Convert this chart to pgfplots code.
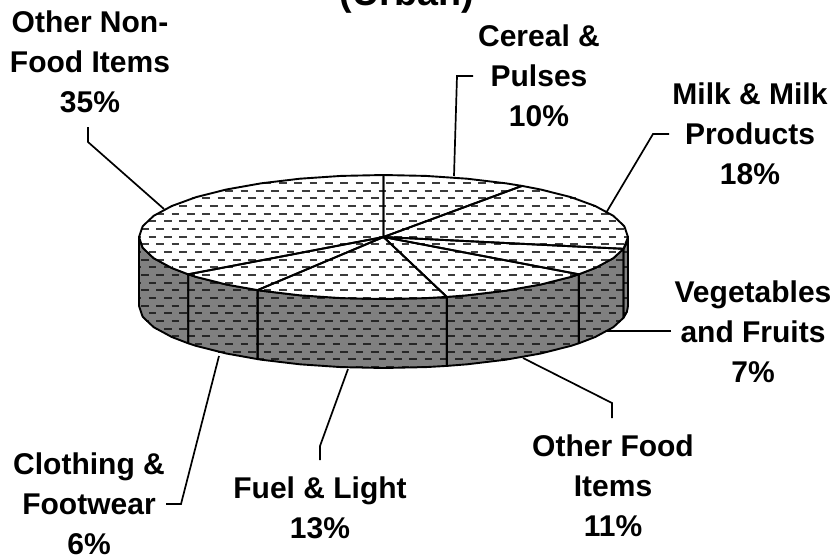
\documentclass[border=0pt]{standalone}
\usepackage{fontspec}
\setmainfont{Liberation Sans}
\usepackage{pgfplots}
\pgfplotsset{compat=1.18}
\definecolor{sidegray}{HTML}{808080}
\definecolor{dashtop}{HTML}{3c3c3c}
\definecolor{dashside}{HTML}{262626}
% one row of the dashed texture: y, left x, right x, dash grid start, colour
\newcommand\dashrow[5]{%
  \pgfmathsetmacro\ph{mod(#2-#4,15.33)}%
  \edef\temp{\noexpand\addplot[#5,line width=1.9pt,dash pattern=on 7.7pt off 7.63pt,dash phase=\ph pt] coordinates {(#2,#1)(#3,#1)};}\temp}
\tikzset{
  wedge/.style={draw=black,line width=1.9pt,line join=round,fill=none},
  leader/.style={draw=black,line width=1.7pt,line join=miter},
  lab/.style={align=center,anchor=base,inner sep=0pt,font=\fontsize{30}{40}\selectfont\bfseries}
}
\begin{document}
\begin{tikzpicture}[x=1pt,y=1pt]
\path[clip,use as bounding box] (0,0) rectangle (837,558);
\begin{axis}[at={(0,0)},anchor=south west,width=837pt,height=558pt,scale only axis,hide axis,
  xmin=0,xmax=837,ymin=0,ymax=558,y dir=reverse,clip=false]
% side body
\addplot[fill=sidegray,draw=none] coordinates {(628,237)(628,306)(626.9,311.9)(623.5,317.8)(613.3,327.2)(595.2,337)(578.8,343.3)(570.8,345.9)(540.7,353.5)(505.8,359.7)(467.1,364.3)(446.8,365.9)(425.9,367.1)(383.5,368)(341.1,367.1)(299.9,364.3)(261.2,359.7)(257.6,359.1)(226.3,353.5)(196.2,345.9)(188.2,343.3)(171.8,337)(153.7,327.2)(142.7,316.8)(139,306)(139,237)} -- cycle;
\dashrow{244.3}{139.8}{627.2}{3.03}{dashside}
\dashrow{252.0}{139.8}{627.2}{10.7}{dashside}
\dashrow{259.7}{139.8}{627.2}{3.03}{dashside}
\dashrow{267.3}{139.8}{627.2}{10.7}{dashside}
\dashrow{275.0}{139.8}{627.2}{3.03}{dashside}
\dashrow{282.7}{139.8}{627.2}{10.7}{dashside}
\dashrow{290.3}{139.8}{627.2}{3.03}{dashside}
\dashrow{298.0}{139.8}{627.2}{10.7}{dashside}
\dashrow{305.7}{139.8}{627.2}{3.03}{dashside}
\dashrow{313.3}{140.7}{626.3}{10.7}{dashside}
\dashrow{321.0}{146.3}{620.7}{3.03}{dashside}
\dashrow{328.7}{155.9}{611.1}{10.7}{dashside}
\dashrow{336.3}{170.2}{596.8}{3.03}{dashside}
\dashrow{344.0}{190.3}{576.7}{10.7}{dashside}
\dashrow{351.7}{218.3}{548.7}{3.03}{dashside}
\dashrow{359.3}{258.5}{508.5}{10.7}{dashside}
\dashrow{367.0}{339.5}{427.5}{3.03}{dashside}
% side outlines
\addplot[wedge] coordinates {(628,237)(626.9,242.9)(623.5,248.8)(623.5,317.8)(626.9,311.9)(628,306)} -- cycle;
\addplot[wedge] coordinates {(623.5,248.8)(613.3,258.2)(595.2,268)(578.8,274.3)(578.8,343.3)(595.2,337)(613.3,327.2)(623.5,317.8)} -- cycle;
\addplot[wedge] coordinates {(578.8,274.3)(570.8,276.9)(540.7,284.5)(505.8,290.7)(467.1,295.3)(446.8,296.9)(446.8,365.9)(467.1,364.3)(505.8,359.7)(540.7,353.5)(570.8,345.9)(578.8,343.3)} -- cycle;
\addplot[wedge] coordinates {(446.8,296.9)(425.9,298.1)(383.5,299)(341.1,298.1)(299.9,295.3)(261.2,290.7)(257.6,290.1)(257.6,359.1)(261.2,359.7)(299.9,364.3)(341.1,367.1)(383.5,368)(425.9,367.1)(446.8,365.9)} -- cycle;
\addplot[wedge] coordinates {(257.6,290.1)(226.3,284.5)(196.2,276.9)(188.2,274.3)(188.2,343.3)(196.2,345.9)(226.3,353.5)(257.6,359.1)} -- cycle;
\addplot[wedge] coordinates {(188.2,274.3)(171.8,268)(153.7,258.2)(142.7,247.8)(139,237)(139,306)(142.7,316.8)(153.7,327.2)(171.8,337)(188.2,343.3)} -- cycle;
% top face
\addplot[fill=white,draw=none] coordinates {(383.5,175)(425.9,175.9)(467.1,178.7)(505.8,183.3)(522,185.9)(540.7,189.5)(570.8,197.1)(595.2,206)(613.3,215.8)(624.3,226.2)(628,237)(623.5,248.8)(613.3,258.2)(595.2,268)(578.8,274.3)(570.8,276.9)(540.7,284.5)(505.8,290.7)(467.1,295.3)(446.8,296.9)(425.9,298.1)(383.5,299)(341.1,298.1)(299.9,295.3)(261.2,290.7)(257.6,290.1)(226.3,284.5)(196.2,276.9)(188.2,274.3)(171.8,268)(153.7,258.2)(142.7,247.8)(139,237)(142.7,226.2)(153.7,215.8)(171.8,206)(196.2,197.1)(226.3,189.5)(261.2,183.3)(299.9,178.7)(341.1,175.9)} -- cycle;
\dashrow{183.0}{261.5}{505.5}{3.03}{dashtop}
\dashrow{190.7}{219.5}{547.5}{10.7}{dashtop}
\dashrow{198.3}{191.5}{575.5}{3.03}{dashtop}
\dashrow{206.0}{171.5}{595.5}{10.7}{dashtop}
\dashrow{213.7}{156.5}{610.5}{3.03}{dashtop}
\dashrow{221.3}{146.5}{620.5}{10.7}{dashtop}
\dashrow{229.0}{140.9}{626.1}{3.03}{dashtop}
\dashrow{236.7}{139.5}{627.5}{10.7}{dashtop}
\dashrow{244.3}{140.9}{626.1}{3.03}{dashtop}
\dashrow{252.0}{146.5}{620.5}{10.7}{dashtop}
\dashrow{259.7}{156.5}{610.5}{3.03}{dashtop}
\dashrow{267.3}{171.5}{595.5}{10.7}{dashtop}
\dashrow{275.0}{191.5}{575.5}{3.03}{dashtop}
\dashrow{282.7}{219.5}{547.5}{10.7}{dashtop}
\dashrow{290.3}{261.5}{505.5}{3.03}{dashtop}
\dashrow{298.0}{343.5}{423.5}{10.7}{dashtop}
% top: Cereal & Pulses 10
\addplot[wedge] coordinates {(383.5,237)(383.5,175)(425.9,175.9)(467.1,178.7)(505.8,183.3)(522,185.9)} -- cycle;
% Milk 18
\addplot[wedge] coordinates {(383.5,237)(522,185.9)(540.7,189.5)(570.8,197.1)(595.2,206)(613.3,215.8)(624.3,226.2)(628,237)(623.5,248.8)} -- cycle;
% Vegetables 7
\addplot[wedge] coordinates {(383.5,237)(623.5,248.8)(613.3,258.2)(595.2,268)(578.8,274.3)} -- cycle;
% Other Food 11
\addplot[wedge] coordinates {(383.5,237)(578.8,274.3)(570.8,276.9)(540.7,284.5)(505.8,290.7)(467.1,295.3)(446.8,296.9)} -- cycle;
% Fuel 13
\addplot[wedge] coordinates {(383.5,237)(446.8,296.9)(425.9,298.1)(383.5,299)(341.1,298.1)(299.9,295.3)(261.2,290.7)(257.6,290.1)} -- cycle;
% Clothing 6
\addplot[wedge] coordinates {(383.5,237)(257.6,290.1)(226.3,284.5)(196.2,276.9)(188.2,274.3)} -- cycle;
% Other non-food 35
\addplot[wedge] coordinates {(383.5,237)(188.2,274.3)(171.8,268)(153.7,258.2)(142.7,247.8)(139,237)(142.7,226.2)(153.7,215.8)(171.8,206)(196.2,197.1)(226.3,189.5)(261.2,183.3)(299.9,178.7)(341.1,175.9)(383.5,175)} -- cycle;
% leaders
\addplot[leader] coordinates {(88,127)(88,142)(164,209)};
\addplot[leader] coordinates {(473,76)(457,76)(454,176)};
\addplot[leader] coordinates {(669,134)(653,134)(606,213)};
\addplot[leader] coordinates {(671,331)(607,331)};
\addplot[leader] coordinates {(612,418)(612,403)(523,358)};
\addplot[leader] coordinates {(320,460)(320,446)(348,369)};
\addplot[leader] coordinates {(166,504)(181,504)(219,356)};
% labels
\node[lab,font=\fontsize{37.7}{40}\selectfont\bfseries] at (axis cs:407,5) {(Urban)};
\node[lab] at (axis cs:90,112) {Other Non-\\Food Items\\35\%};
\node[lab] at (axis cs:539,126) {Cereal \&\\Pulses\\10\%};
\node[lab] at (axis cs:750,184) {Milk \& Milk\\Products\\18\%};
\node[lab] at (axis cs:753,382) {Vegetables\\and Fruits\\7\%};
\node[lab] at (axis cs:613,536) {Other Food\\Items\\11\%};
\node[lab] at (axis cs:320,538) {Fuel \& Light\\13\%};
\node[lab] at (axis cs:89,554) {Clothing \&\\Footwear\\6\%};
\end{axis}
\end{tikzpicture}
\end{document}
